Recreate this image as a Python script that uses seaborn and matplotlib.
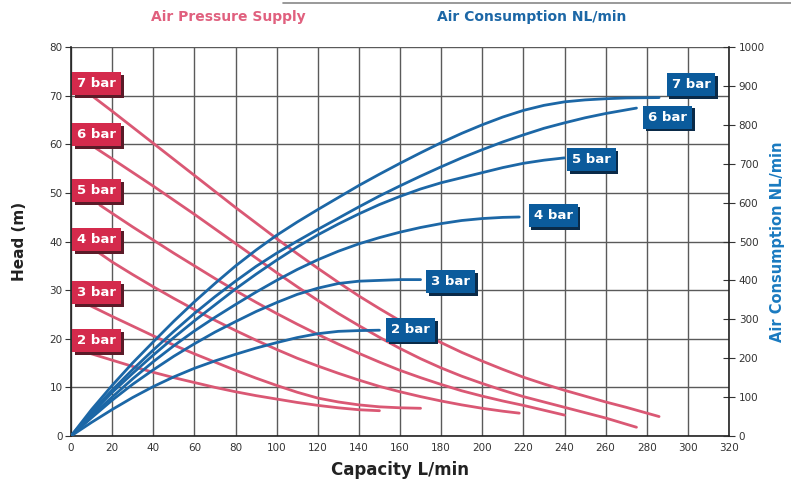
import numpy as np
import pandas as pd
import matplotlib
matplotlib.use("Agg")
import matplotlib.pyplot as plt
import seaborn as sns
from matplotlib.patheffects import withSimplePatchShadow

# ---------------- data ----------------
pressures = ["2 bar", "3 bar", "4 bar", "5 bar", "6 bar", "7 bar"]

# Head (m) curves vs capacity (L/min)
head_cap_2 = [9.2, 20, 30, 40, 50, 60, 70, 80, 90, 100, 110, 120, 130, 140, 150]
head_val_2 = [17, 15.6, 14.3, 13.1, 12.0, 11.0, 10.0, 9.1, 8.3, 7.6, 6.9, 6.3, 5.8, 5.4, 5.2]
head_cap_3 = [8.4, 20, 30, 40, 50, 60, 70, 80, 90, 100, 110, 120, 130, 140, 150, 160, 170]
head_val_3 = [27, 24.6, 22.6, 20.6, 18.7, 16.9, 15.2, 13.5, 11.9, 10.4, 9.0, 7.8, 7.0, 6.4, 6.0, 5.8, 5.7]
head_cap_4 = [12.5, 20, 30, 40, 50, 60, 70, 80, 90, 100, 110, 120, 130, 140, 150, 160, 170,
              180, 190, 200, 210, 218]
head_val_4 = [38, 35.8, 33.2, 30.7, 28.3, 26.0, 23.8, 21.7, 19.7, 17.8, 16.0, 14.4, 12.9, 11.5,
              10.2, 9.1, 8.1, 7.2, 6.4, 5.7, 5.1, 4.7]
head_cap_5 = [14, 20, 30, 40, 50, 60, 70, 80, 90, 100, 110, 120, 130, 140, 150, 160, 170, 180,
              190, 200, 210, 220, 230, 240]
head_val_5 = [47.5, 45.8, 43.0, 40.3, 37.6, 35.0, 32.4, 29.9, 27.5, 25.2, 23.0, 20.9, 18.9, 17.0,
              15.2, 13.5, 12.0, 10.6, 9.3, 8.2, 7.2, 6.3, 5.3, 4.3]
head_cap_6 = [11.7, 20, 30, 40, 50, 60, 70, 80, 90, 100, 110, 120, 130, 140, 150, 160, 170, 180,
              190, 200, 210, 220, 230, 240, 250, 260, 275]
head_val_6 = [59.3, 57.0, 54.2, 51.4, 48.5, 45.6, 42.6, 39.6, 36.6, 33.6, 30.7, 27.9, 25.2, 22.7,
              20.3, 18.0, 15.9, 14.0, 12.3, 10.8, 9.4, 8.1, 7.0, 5.9, 4.8, 3.7, 1.8]
head_cap_7 = [10.7, 20, 30, 40, 50, 60, 70, 80, 90, 100, 110, 120, 130, 140, 150, 160, 170, 180,
              190, 200, 210, 220, 230, 240, 250, 260, 270, 286]
head_val_7 = [69.8, 66.8, 63.5, 60.2, 56.9, 53.6, 50.3, 47.0, 43.8, 40.6, 37.5, 34.5, 31.6, 28.8,
              26.2, 23.7, 21.4, 19.2, 17.2, 15.4, 13.7, 12.1, 10.7, 9.4, 8.2, 7.0, 5.9, 4.0]

# Air consumption (NL/min) curves vs capacity (L/min)
air_cap_2 = [0, 10, 20, 30, 40, 50, 60, 70, 80, 90, 100, 110, 120, 130, 140, 150]
air_val_2 = [0, 35, 68, 99, 127, 152, 174, 193, 210, 226, 240, 253, 263, 269, 271, 272]
air_cap_3 = [0, 10, 20, 30, 40, 50, 60, 70, 80, 90, 100, 110, 120, 130, 140, 150, 160, 170]
air_val_3 = [0, 47, 92, 133, 170, 205, 237, 267, 294, 320, 343, 364, 380, 392, 398, 400, 402, 402]
air_cap_4 = [0, 10, 20, 30, 40, 50, 60, 70, 80, 90, 100, 110, 120, 130, 140, 150, 160, 170,
             180, 190, 200, 210, 218]
air_val_4 = [0, 52, 100, 147, 191, 232, 270, 305, 338, 370, 400, 428, 453, 475, 494, 510, 524,
             536, 546, 554, 559, 562, 563]
air_cap_5 = [0, 10, 20, 30, 40, 50, 60, 70, 80, 90, 100, 110, 120, 130, 140, 150, 160, 170,
             180, 190, 200, 210, 220, 230, 240]
air_val_5 = [0, 58, 112, 161, 208, 253, 296, 337, 378, 416, 452, 486, 517, 545, 571, 595, 616,
             635, 651, 664, 677, 690, 701, 709, 715]
air_cap_6 = [0, 10, 20, 30, 40, 50, 60, 70, 80, 90, 100, 110, 120, 130, 140, 150, 160, 170,
             180, 190, 200, 210, 220, 230, 240, 250, 260, 275]
air_val_6 = [0, 62, 118, 171, 221, 269, 315, 358, 398, 436, 470, 501, 531, 560, 589, 617, 643,
             668, 692, 715, 736, 756, 774, 791, 805, 818, 829, 843]
air_cap_7 = [0, 10, 20, 30, 40, 50, 60, 70, 80, 90, 100, 110, 120, 130, 140, 150, 160, 170,
             180, 190, 200, 210, 220, 230, 240, 250, 260, 270, 286]
air_val_7 = [0, 68, 130, 188, 242, 295, 345, 392, 437, 478, 516, 550, 582, 613, 644, 673, 701,
             728, 754, 778, 800, 820, 837, 850, 859, 864, 867, 869, 870]

x_ticks = list(range(0, 321, 20))
head_ticks = list(range(0, 81, 10))
air_ticks = list(range(0, 1001, 100))

head_caps = [head_cap_2, head_cap_3, head_cap_4, head_cap_5, head_cap_6, head_cap_7]
head_vals = [head_val_2, head_val_3, head_val_4, head_val_5, head_val_6, head_val_7]
air_caps = [air_cap_2, air_cap_3, air_cap_4, air_cap_5, air_cap_6, air_cap_7]
air_vals = [air_val_2, air_val_3, air_val_4, air_val_5, air_val_6, air_val_7]

head_df = pd.concat([pd.DataFrame({"capacity": c, "head": v, "pressure": p})
                     for c, v, p in zip(head_caps, head_vals, pressures)])
air_df = pd.concat([pd.DataFrame({"capacity": c, "air": v, "pressure": p})
                    for c, v, p in zip(air_caps, air_vals, pressures)])

# label positions (data coords of head axis)
red_label_x = [12.5] * 6
red_label_y = [19.6, 29.5, 40.4, 50.5, 62.0, 72.4]
blue_label_x = [165, 184.5, 234.5, 253, 290, 301.5]
blue_label_y = [21.8, 31.7, 45.3, 56.8, 65.6, 72.2]

# ---------------- style ----------------
sns.set_theme(style="white")
plt.rcParams["font.family"] = ["DejaVu Sans"]

RED = "#da5874"
RED_BOX = "#d42a4c"
BLUE = "#1c67a6"
BLUE_BOX = "#0b5b9c"
GRID = "#5a5a5a"

fig = plt.figure(figsize=(7.91, 4.79), dpi=100)
fig.patch.set_facecolor("white")
ax = fig.add_axes([71 / 791, 43 / 479, 658 / 791, 389 / 479])
ax2 = ax.twinx()

ax.set_xlim(0, 320)
ax.set_ylim(0, 80)
ax2.set_ylim(0, 1000)

ax.set_xticks(x_ticks)
ax.set_yticks(head_ticks)
ax2.set_yticks(air_ticks)

ax.grid(True, color=GRID, lw=1.0)
ax.set_axisbelow(True)
ax2.grid(False)

sns.lineplot(data=head_df, x="capacity", y="head", units="pressure",
             estimator=None, sort=False, color=RED, lw=2.0, ax=ax, zorder=3)
sns.lineplot(data=air_df, x="capacity", y="air", units="pressure",
             estimator=None, sort=False, color=BLUE, lw=2.0, ax=ax2, zorder=3)

for a in (ax, ax2):
    for s in a.spines.values():
        s.set_visible(False)
ax.spines["left"].set_visible(True)
ax.spines["bottom"].set_visible(True)
ax2.spines["right"].set_visible(True)
for s in (ax.spines["left"], ax.spines["bottom"], ax2.spines["right"]):
    s.set_color("#222222")
    s.set_linewidth(1.2)

ax.tick_params(axis="both", labelsize=7.5, colors="#333333", length=4, width=0.8,
               direction="out", pad=2)
ax.tick_params(axis="x", length=0, pad=5)
ax2.tick_params(axis="y", labelsize=7.5, colors="#333333", length=8, width=0.8,
                direction="inout", pad=3)

ax.set_xlabel("Capacity L/min", fontsize=12, fontweight="bold", color="#222222", labelpad=6)
ax.set_ylabel("Head (m)", fontsize=11, fontweight="bold", color="#222222", labelpad=16)
ax2.set_ylabel("Air Consumption NL/min", fontsize=10.5, fontweight="bold", color="#1a7ac0",
               labelpad=4)


def boxed(x, y, txt, face, shadow):
    t = ax.text(x, y, txt, ha="center", va="center", fontsize=9.5, fontweight="bold",
                color="white", zorder=6, clip_on=False,
                bbox=dict(boxstyle="square,pad=0.38", fc=face, ec="none"))
    t.get_bbox_patch().set_path_effects(
        [withSimplePatchShadow(offset=(2, -2), shadow_rgbFace=shadow, alpha=1.0)])


for x, y, t in zip(red_label_x, red_label_y, pressures):
    boxed(x, y, t, RED_BOX, "#5a1b28")
for x, y, t in zip(blue_label_x, blue_label_y, pressures):
    boxed(x, y, t, BLUE_BOX, "#0a2a48")

fig.text(228 / 791, 1 - 17 / 479, "Air Pressure Supply", ha="center", va="center",
         fontsize=10, fontweight="bold", color="#e0607e")
fig.text(532 / 791, 1 - 17 / 479, "Air Consumption NL/min", ha="center", va="center",
         fontsize=10, fontweight="bold", color="#1c67a6")
fig.add_artist(plt.Line2D([283 / 791, 1.0], [1 - 3 / 479, 1 - 3 / 479], color="#888888", lw=1.2))

fig.savefig("out.png", dpi=100, facecolor="white")
